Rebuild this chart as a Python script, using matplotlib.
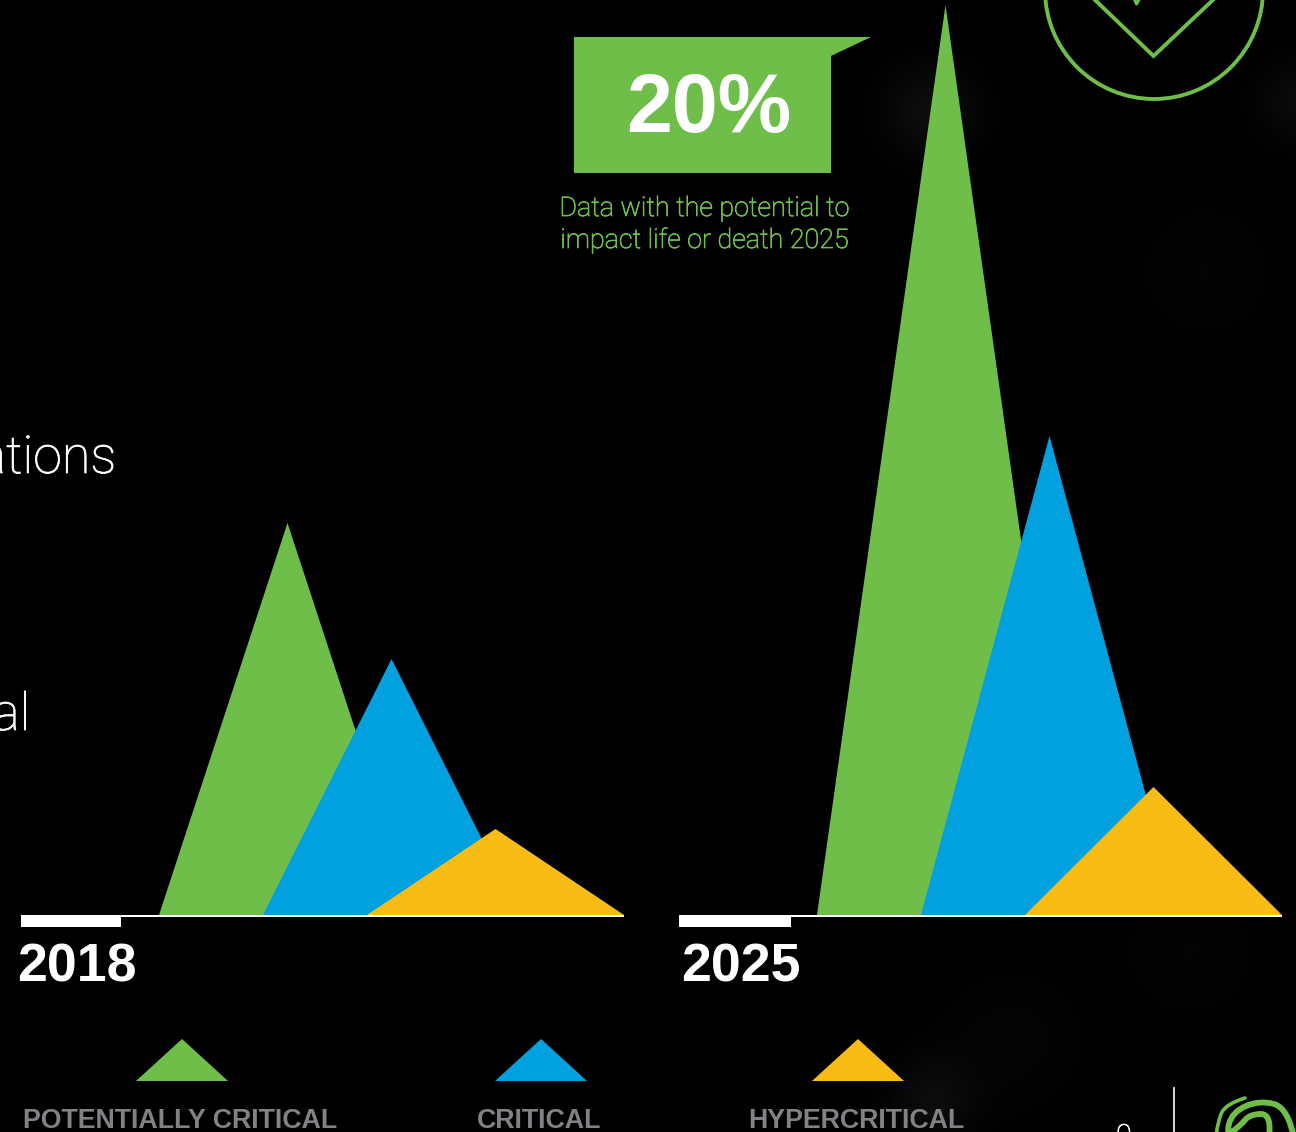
import numpy as np
import matplotlib
matplotlib.use("Agg")
import matplotlib.pyplot as plt
import matplotlib.patheffects as pe
from matplotlib.patches import Polygon, Rectangle, Circle, PathPatch
from matplotlib.path import Path

W, H = 1296, 1132
BASE_Y = 915

# ---------------------------
# Data
# ---------------------------
years = ["2018", "2025"]
categories = ["POTENTIALLY CRITICAL", "CRITICAL", "HYPERCRITICAL"]
heights_2018 = [392, 256, 86]
heights_2025 = [910, 479, 128]
callout_value = "20%"
callout_lines = ["Data with the potential to", "impact life or death 2025"]

GREEN = "#6fbe4a"
BLUE = "#00a1de"
YELLOW = "#f9bc15"
GREY = "#808285"
colors = [GREEN, BLUE, YELLOW]

LIGHT = ["Roboto", "Liberation Sans"]
SANS = ["Liberation Sans", "DejaVu Sans"]

fig = plt.figure(figsize=(W / 100, H / 100), dpi=100, facecolor="black")
ax = fig.add_axes([0, 0, 1, 1])
ax.set_xlim(0, W)
ax.set_ylim(H, 0)
ax.axis("off")

# ---------------------------
# Soft background smudges
# ---------------------------
yy, xx = np.mgrid[0:H:2, 0:W:2]
bg = np.zeros(xx.shape)
for cx, cy, s, amp in [(930, 110, 34, 13), (1296, 100, 30, 10), (930, 1100, 32, 11),
                       (1010, 1040, 50, 5), (1205, 270, 50, 4), (1190, 950, 50, 4)]:
    bg += amp * np.exp(-((xx - cx) ** 2 + (yy - cy) ** 2) / (2 * s ** 2))
ax.imshow(bg, extent=[0, W, H, 0], cmap="gray", vmin=0, vmax=255, zorder=0, aspect="auto")

# ---------------------------
# Triangles per year
# ---------------------------
def draw_year(left, bar_end, heights, label, label_x):
    for i, h in enumerate(heights):
        x0 = left + 138 + i * 104
        x1 = x0 + 257
        ax.add_patch(Polygon([(x0, BASE_Y), ((x0 + x1) / 2, BASE_Y - h), (x1, BASE_Y)],
                             closed=True, facecolor=colors[i], edgecolor="none", zorder=2 + i))
    ax.add_patch(Rectangle((left, BASE_Y), 603, 1.6, facecolor="white", edgecolor="none", zorder=6))
    ax.add_patch(Rectangle((left, BASE_Y), bar_end - left, 12, facecolor="white", edgecolor="none", zorder=6))
    ax.text(label_x, 982, label, color="white", fontsize=38.7, fontweight="bold",
            family=SANS, ha="left", va="baseline", zorder=7)


draw_year(21, 121, heights_2018, years[0], 17.5)
draw_year(679, 791, heights_2025, years[1], 681.5)

# ---------------------------
# Callout
# ---------------------------
ax.add_patch(Polygon([(574, 37), (871, 37), (831, 56), (831, 173), (574, 173)],
                     closed=True, facecolor=GREEN, edgecolor="none", zorder=8))
ax.text(709, 132, callout_value, color="white", fontsize=59.5, fontweight="bold",
        family=SANS, ha="center", va="baseline", zorder=9)
green_stroke = [pe.withStroke(linewidth=0.55, foreground=GREEN)]
ax.text(704, 216, callout_lines[0], color=GREEN, fontsize=19.4, family=LIGHT, fontweight="light",
        ha="center", va="baseline", zorder=9, path_effects=green_stroke)
ax.text(704, 248, callout_lines[1], color=GREEN, fontsize=19.4, family=LIGHT, fontweight="light",
        ha="center", va="baseline", zorder=9, path_effects=green_stroke)

# ---------------------------
# Cut-off body text on the left edge
# ---------------------------
thicker = [pe.withStroke(linewidth=0.5, foreground="white")]
ax.text(116.5, 473, "ations", color="white", fontsize=37.5, family=LIGHT, fontweight="light",
        ha="right", va="baseline", zorder=9, path_effects=thicker)
ax.text(30.5, 730, "al", color="white", fontsize=37.5, family=LIGHT, fontweight="light",
        ha="right", va="baseline", zorder=9, path_effects=thicker)

# ---------------------------
# Legend
# ---------------------------
legend_x = [182, 541, 858]
label_x = [180, 539, 856]
for i, cat in enumerate(categories):
    cx = legend_x[i]
    ax.add_patch(Polygon([(cx - 46, 1081), (cx, 1039), (cx + 46, 1081)], closed=True,
                         facecolor=colors[i], edgecolor="none", zorder=3))
    ax.text(label_x[i], 1128, cat, color=GREY, fontsize=19.25, fontweight="bold",
            family=SANS, ha="center", va="baseline", zorder=3)

# ---------------------------
# Badge at top right
# ---------------------------
ax.add_patch(Circle((1154, -10), 109, facecolor="none", edgecolor=GREEN, linewidth=2.8, zorder=3))
ax.plot([1093, 1153.5, 1215], [-2, 56, -2], color=GREEN, linewidth=2.8, solid_joinstyle="miter", zorder=3)
ax.plot([1134, 1136.5, 1140], [-2, 4, -2], color=GREEN, linewidth=2.2, zorder=3)

# ---------------------------
# Footer: page number, divider, logo
# ---------------------------
ax.text(1124, 1144, "9", color="white", fontsize=20, family=LIGHT, fontweight="light",
        ha="center", va="baseline", zorder=3, path_effects=thicker)
ax.plot([1174, 1174], [1088, H], color="white", linewidth=1.2, zorder=3)


def smooth_stroke(points, lw):
    # quadratic segments through the midpoints of the control points
    pts = np.array(points, dtype=float)
    verts = [pts[0]]
    codes = [Path.MOVETO]
    for i in range(1, len(pts) - 1):
        end = pts[i + 1] if i == len(pts) - 2 else (pts[i] + pts[i + 1]) / 2
        verts += [pts[i], end]
        codes += [Path.CURVE3, Path.CURVE3]
    ax.add_patch(PathPatch(Path(verts, codes), facecolor="none", edgecolor=GREEN,
                           linewidth=lw, capstyle="round", zorder=3))


smooth_stroke([(1245, 1098), (1226, 1104), (1218, 1120), (1216, 1136)], 2.6)
smooth_stroke([(1294, 1138), (1288, 1108), (1260, 1100), (1232, 1112), (1226, 1136),
               (1240, 1126), (1250, 1114), (1272, 1114), (1269, 1138)], 4.2)

plt.savefig("out.png", dpi=100, facecolor="black")
plt.close()
